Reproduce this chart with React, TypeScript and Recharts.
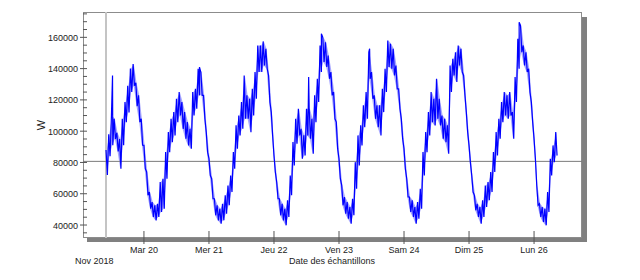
import React from 'react';
import { ComposedChart, Line, Area, XAxis, YAxis, ReferenceLine } from 'recharts';

// hours counted from lundi 19 nov 2018 00:00, one [high, low] pair per hour
const mon19Start = 10;
const mon19 = [
  [88000, 72000], [98000, 84000], [110000, 91000], [108000, 95000], [99000, 87000],
  [95000, 76000], [108000, 91000], [118600, 105800], [129000, 112000], [140000, 125000],
  [143000, 129000], [131000, 116000], [122900, 105800], [108000, 91000],
];
const tue20 = [
  [91000, 76000], [73900, 59000], [61100, 50400], [54700, 45100], [52600, 43000],
  [53600, 45100], [67500, 48300], [69600, 50400], [86600, 69600], [99400, 86600],
  [108000, 93000], [112200, 97300], [120700, 105800], [125000, 110000], [118600, 101500],
  [112200, 95200], [105800, 90900], [101500, 88800], [125000, 110000], [127100, 114300],
  [139900, 122900], [137800, 122900], [122900, 107900], [99400, 86600],
];
const wed21 = [
  [82400, 71700], [69600, 56800], [56800, 46200], [52600, 43000], [50400, 40900],
  [53600, 43000], [59000, 47200], [65300, 52600], [71700, 61100], [86600, 76000],
  [103700, 88800], [110000, 97300], [118600, 101600], [135600, 107900], [122900, 107900],
  [120700, 99400], [127100, 110000], [137800, 120700], [154800, 137800], [154800, 137800],
  [157400, 142000], [152700, 139900], [135600, 118600], [112200, 97300],
];
const thu22 = [
  [84500, 73900], [67500, 56800], [56800, 46200], [53600, 43000], [50400, 39800],
  [55800, 45100], [71700, 59000], [93000, 78100], [107900, 92000], [114300, 97300],
  [101500, 82400], [97300, 84500], [114300, 97300], [114300, 95200], [107900, 85600],
  [122900, 105800], [133500, 118600], [154800, 137800], [160100, 144200], [156900, 141000],
  [148400, 133500], [137800, 122900], [125000, 107900], [105800, 88800],
];
const fri23 = [
  [82400, 69600], [65300, 52600], [57900, 47200], [54700, 44000], [51500, 40900],
  [56800, 46200], [80200, 63200], [97300, 78100], [103700, 90900], [116500, 102600],
  [125000, 107900], [150500, 133500], [137800, 120700], [122900, 107900], [116500, 102600],
  [116500, 97300], [127100, 112200], [139900, 125000], [158000, 141000], [155900, 139900],
  [152700, 135600], [142000, 127100], [127100, 114300], [107900, 95200],
];
const sat24 = [
  [88800, 76000], [69600, 57900], [57900, 48300], [55800, 45100], [51500, 40900],
  [54700, 44000], [63200, 50400], [86600, 71700], [99400, 86600], [112200, 97300],
  [125000, 105800], [120700, 103700], [133500, 107900], [120700, 103700], [110000, 95200],
  [107900, 93000], [103700, 85600], [142000, 125000], [146300, 135600], [150500, 131400],
  [154800, 142000], [152700, 137800], [135600, 122900], [112200, 99400],
];
const sun25 = [
  [90900, 80200], [71700, 61100], [59000, 49400], [53600, 45100], [51500, 40900],
  [55800, 45100], [65300, 51500], [67500, 55800], [73900, 61100], [86600, 73900],
  [99400, 84500], [107900, 95200], [118600, 105800], [125000, 110000], [122900, 107900],
  [125000, 110000], [112200, 95200], [134600, 118600], [159100, 139900], [167600, 150500],
  [154800, 142000], [150500, 137800], [139900, 125000], [118600, 105800],
];
const mon26 = [
  [95200, 82400], [65300, 52600], [53600, 45100], [51500, 41900], [50400, 39800],
  [61100, 48300], [82400, 71700], [90900, 80200], [99400, 84500],
];
// single samples that stick out of the band
const spikes = [
  [12.4, 135600], [44.5, 141000], [84.8, 134600], [89.5, 162300],
  [107.3, 152700], [162.5, 169700],
];

const meanW = 80700;
const dayTicks = [24, 48, 72, 96, 120, 144, 168];
const dayLabels = ['Mar 20', 'Mer 21', 'Jeu 22', 'Ven 23', 'Sam 24', 'Dim 25', 'Lun 26'];
const yTicks = [
  35000, 40000, 45000, 50000, 55000, 60000, 65000, 70000, 75000, 80000,
  85000, 90000, 95000, 100000, 105000, 110000, 115000, 120000, 125000, 130000,
  135000, 140000, 145000, 150000, 155000, 160000, 165000, 170000, 175000,
];

const days = [mon19, tue20, wed21, thu22, fri23, sat24, sun25, mon26];

const buildData = () => {
  const pts: { t: number; w: number }[] = [];
  const band: { t: number; range: number[] }[] = [];
  let h = mon19Start;
  days.forEach(day => {
    day.forEach(([hi, lo]) => {
      pts.push({ t: h, w: hi });
      pts.push({ t: h + 0.5, w: lo });
      band.push({ t: h + 0.25, range: [lo, hi] });
      h++;
    });
    if (day === mon19) h = 24;
  });
  spikes.forEach(([t, w]) => pts.push({ t, w }));
  return { pts: pts.sort((a, b) => a.t - b.t), band };
};

const { pts, band } = buildData();

const FONT = '"Liberation Sans", Arial, sans-serif';
const LEFT = 83;
const RIGHT = 582;
const TOP = 12;
const BOTTOM = 238;

const YTick = ({ y, payload }: any) => {
  const v = payload.value;
  const major = v % 20000 === 0;
  return (
    <g>
      <line x1={major ? 80 : LEFT} x2={87} y1={y} y2={y} stroke="#555" />
      {major && (
        <text x={78} y={y} dy={3.5} textAnchor="end" fontSize={9} fontFamily={FONT} fill="#222">
          {v}
        </text>
      )}
    </g>
  );
};

const XTick = ({ x, payload }: any) => {
  const i = dayTicks.indexOf(payload.value);
  return (
    <g>
      <line x1={x} x2={x} y1={231} y2={244} stroke="#555" />
      <text x={x} y={253} textAnchor="middle" fontSize={9} fontFamily={FONT} fill="#222">
        {dayLabels[i]}
      </text>
    </g>
  );
};

export default function App() {
  return (
    <div style={{ position: 'absolute', left: 0, top: 0, width: 640, height: 280, background: '#fff' }}>
      <div style={{ position: 'absolute', left: 87, top: 17, width: 500, height: 225, background: '#808080' }} />
      <div
        style={{
          position: 'absolute', left: LEFT, top: TOP, width: RIGHT - LEFT, height: BOTTOM - TOP,
          background: '#fff', border: '1px solid #8c8c8c', boxSizing: 'border-box',
        }}
      />
      <div style={{ position: 'absolute', left: 0, top: 0 }}>
        <ComposedChart width={640} height={280} margin={{ top: TOP, right: 640 - RIGHT, bottom: 0, left: 0 }}>
          <XAxis
            dataKey="t"
            type="number"
            domain={[1.5, 185.7]}
            ticks={dayTicks}
            height={280 - BOTTOM}
            axisLine={false}
            tickLine={false}
            tick={<XTick />}
            interval={0}
            allowDuplicatedCategory={false}
          />
          <YAxis
            type="number"
            domain={[31700, 176200]}
            ticks={yTicks}
            width={LEFT}
            axisLine={false}
            tickLine={false}
            tick={<YTick />}
            interval={0}
          />
          <ReferenceLine x={mon19Start} stroke="#c4c4c4" strokeWidth={2} />
          <ReferenceLine y={meanW} stroke="#7a7a7a" />
          <Area
            data={band}
            dataKey="range"
            type="linear"
            stroke="none"
            fill="#3a3aff"
            fillOpacity={0.45}
            isAnimationActive={false}
          />
          <Line data={pts} dataKey="w" stroke="#0000ff" strokeWidth={1.2} dot={false} isAnimationActive={false} />
        </ComposedChart>
      </div>
      <div style={{ position: 'absolute', left: 75, top: 256, fontSize: 9, fontFamily: FONT, color: '#222' }}>Nov 2018</div>
      <div style={{ position: 'absolute', left: 0, width: 664, top: 256, textAlign: 'center', fontSize: 9, fontFamily: FONT, color: '#222' }}>
        Date des échantillons
      </div>
      <div
        style={{
          position: 'absolute', left: 36, top: 119, fontSize: 11, fontFamily: FONT, color: '#222',
          transform: 'rotate(-90deg)',
        }}
      >
        W
      </div>
    </div>
  );
}
